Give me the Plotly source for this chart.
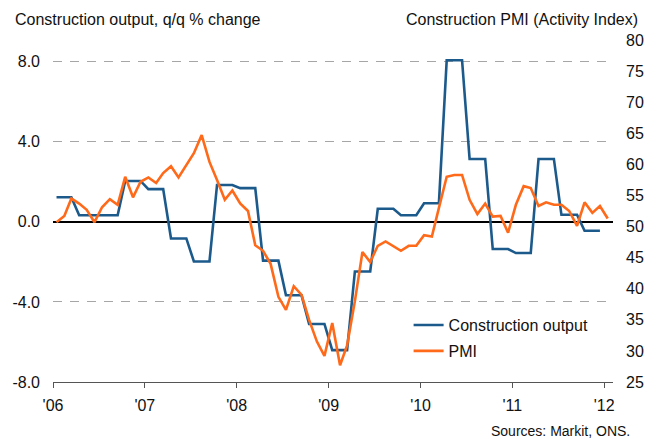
import plotly.graph_objects as go

# quarterly construction output, q/q % change (Q1 2006 .. Q4 2011), shown monthly
output_quarterly = [1.23, 0.33, 0.33, 2.04,
                    1.63, -0.83, -1.98, 1.84,
                    1.68, -1.94, -3.67, -5.10,
                    -6.41, -2.48, 0.65, 0.33,
                    0.93, 8.07, 3.14, -1.36,
                    -1.56, 3.14, 0.35, -0.45]

# construction PMI, monthly Jan 2006 .. Jan 2012
pmi = [50.7, 51.7, 54.5, 53.7, 52.7, 50.7, 53.1, 54.4, 53.5, 58.0, 54.7, 57.2,
       57.9, 57.0, 58.6, 59.7, 57.9, 59.9, 61.8, 64.7, 60.4, 57.5, 54.3, 55.8,
       53.7, 52.5, 47.0, 46.1, 44.0, 38.7, 36.6, 40.4, 39.0, 35.0, 31.5, 29.2,
       34.5, 27.7, 30.9, 38.0, 45.9, 44.3, 46.9, 47.6, 46.9, 46.1, 46.9, 46.9,
       48.6, 48.4, 53.0, 58.0, 58.3, 58.3, 54.3, 52.0, 53.7, 51.6, 51.7, 49.0,
       53.5, 56.5, 56.2, 53.3, 53.9, 53.5, 53.5, 52.5, 50.1, 53.9, 52.2, 53.3,
       51.3]

months = [f"{2006 + i // 12}-{i % 12 + 1:02d}-15" for i in range(len(pmi))]
output_monthly = [v for v in output_quarterly for _ in range(3)]

year_ticks = [f"{y}-01-01" for y in range(2006, 2013)]
year_labels = ["'06", "'07", "'08", "'09", "'10", "'11", "'12"]
left_ticks = [-8, -4, 0, 4, 8]
left_labels = ["-8.0", "-4.0", "0.0", "4.0", "8.0"]
right_ticks = list(range(25, 81, 5))

BLUE = '#1c5a8c'
ORANGE = '#ff6a1a'
FONT = 'Liberation Sans, Arial, sans-serif'

fig = go.Figure()
fig.add_trace(go.Scatter(x=months[:len(output_monthly)], y=output_monthly, mode='lines',
                         name='Construction output', legendgroup='a',
                         line=dict(color=BLUE, width=2.6)))
fig.add_trace(go.Scatter(x=months, y=pmi, mode='lines', name='PMI', yaxis='y2',
                         legendgroup='b', line=dict(color=ORANGE, width=2.6)))

# page body adds an 8px margin, so the figure is a little smaller than the window
fig.update_layout(
    width=650, height=431,
    margin=dict(l=45, r=45, t=32, b=57),
    paper_bgcolor='white', plot_bgcolor='white',
    font=dict(family=FONT, size=16, color='#111111'),
    showlegend=True,
    legend=dict(x=0.635, y=0.216, xanchor='left', yanchor='top',
                tracegroupgap=2, bgcolor='rgba(0,0,0,0)', font=dict(size=16)),
    xaxis=dict(type='date', range=['2006-01-01', '2012-02-05'],
               tickvals=year_ticks, ticktext=year_labels,
               showgrid=False, zeroline=False, automargin=False,
               showline=True, linecolor='#555555', linewidth=1,
               ticks='outside', ticklen=5, tickcolor='#555555',
               ticklabelstandoff=4, tickfont=dict(size=16)),
    yaxis=dict(range=[-8, 9.08], tickvals=left_ticks, ticktext=left_labels,
               showgrid=True, gridcolor='#a6a6a6', griddash='9px,8px', gridwidth=1,
               zeroline=True, zerolinecolor='black', zerolinewidth=1.5,
               showline=False, ticks='', ticklabelstandoff=12, automargin=False),
    yaxis2=dict(range=[25, 80], tickvals=right_ticks, overlaying='y', side='right',
                showgrid=False, zeroline=False, showline=False, ticks='',
                ticklabelstandoff=12, automargin=False),
    annotations=[
        dict(text='Construction output, q/q % change', xref='paper', yref='paper',
             x=-0.0714, y=1.061, xanchor='left', yanchor='middle', showarrow=False,
             font=dict(size=16)),
        dict(text='Construction PMI (Activity Index)', xref='paper', yref='paper',
             x=1.048, y=1.061, xanchor='right', yanchor='middle', showarrow=False,
             font=dict(size=16)),
        dict(text='Sources: Markit, ONS.', xref='paper', yref='paper',
             x=1.034, y=-0.143, xanchor='right', yanchor='middle', showarrow=False,
             font=dict(size=14)),
    ],
)

fig.write_html("out.html")
